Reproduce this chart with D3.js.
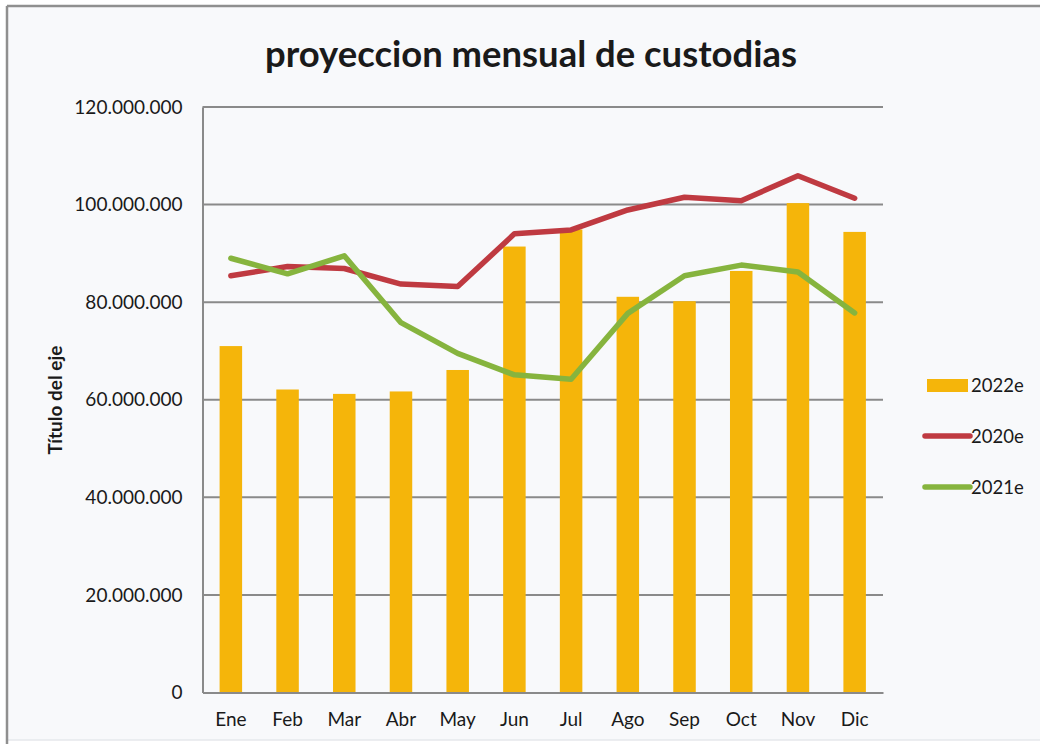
<!DOCTYPE html>
<html>
<head>
<meta charset="utf-8">
<script src="https://cdn.jsdelivr.net/npm/d3@7"></script>
<style>
  html, body { margin: 0; padding: 0; background: #ffffff; }
  svg { display: block; }
  text { font-family: Lato, "Open Sans", sans-serif; fill: #1a1a1a; }
</style>
</head>
<body>
<svg id="chart" width="1040" height="744"></svg>
<script>
const title = "proyeccion mensual de custodias";
const yAxisTitle = "Título del eje";
const months = ["Ene","Feb","Mar","Abr","May","Jun","Jul","Ago","Sep","Oct","Nov","Dic"];
const values2022e = [71.0e6, 62.1e6, 61.2e6, 61.7e6, 66.1e6, 91.4e6, 94.9e6, 81.1e6, 80.2e6, 86.4e6, 100.3e6, 94.4e6];
const values2020e = [85.4e6, 87.3e6, 86.9e6, 83.7e6, 83.2e6, 94.0e6, 94.8e6, 98.9e6, 101.5e6, 100.8e6, 105.9e6, 101.3e6];
const values2021e = [89.0e6, 85.8e6, 89.5e6, 75.8e6, 69.5e6, 65.1e6, 64.2e6, 77.7e6, 85.4e6, 87.6e6, 86.2e6, 77.8e6];
const yTicks = [0, 20e6, 40e6, 60e6, 80e6, 100e6, 120e6];
const legendNames = ["2022e", "2020e", "2021e"];

const colBar = "#F5B50A", colRed = "#BF3A41", colGreen = "#86B43E", colGrid = "#8a8a8a";

const svg = d3.select("#chart");

// chart frame background
svg.append("rect").attr("x", 7).attr("y", 6).attr("width", 1040).attr("height", 734)
  .attr("fill", "#f8f9fb").attr("stroke", "#e6e8ec").attr("stroke-width", 1.5);
svg.append("line").attr("x1", 7).attr("x2", 1040).attr("y1", 6).attr("y2", 6)
  .attr("stroke", "#8f8f8f").attr("stroke-width", 2.5);
svg.append("line").attr("x1", 7).attr("x2", 7).attr("y1", 6).attr("y2", 744)
  .attr("stroke", "#8f8f8f").attr("stroke-width", 2.5);

const x = d3.scaleBand().domain(months).range([202.5, 883]).paddingInner(0).paddingOuter(0);
const y = d3.scaleLinear().domain([0, 120e6]).range([692.5, 107]);

const loc = d3.formatLocale({decimal: ",", thousands: ".", grouping: [3], currency: ["", ""]});
const fmt = loc.format(",d");

// gridlines
svg.append("g").selectAll("line").data(yTicks.filter(d => d > 0)).join("line")
  .attr("x1", 202.5).attr("x2", 883)
  .attr("y1", d => y(d)).attr("y2", d => y(d))
  .attr("stroke", colGrid).attr("stroke-width", 2);

// y axis via d3
const yAxis = d3.axisLeft(y).tickValues(yTicks).tickFormat(fmt).tickSize(0).tickPadding(20);
const gy = svg.append("g").attr("transform", "translate(202.5,0)").call(yAxis);
gy.select(".domain").attr("stroke", colGrid).attr("stroke-width", 2);
gy.selectAll("text").attr("font-size", 19).attr("fill", "#222").style("font-family", "Lato, sans-serif");

// bars
const bw = 22.5;
svg.append("g").selectAll("rect").data(months).join("rect")
  .attr("x", (d) => x(d) + x.bandwidth() / 2 - bw / 2)
  .attr("y", (d, i) => y(values2022e[i]))
  .attr("width", bw)
  .attr("height", (d, i) => y(0) - y(values2022e[i]))
  .attr("fill", colBar);

// x axis
const xAxis = d3.axisBottom(x).tickSize(0).tickPadding(20);
const gx = svg.append("g").attr("transform", `translate(0,${y(0)})`).call(xAxis);
gx.select(".domain").attr("stroke", colGrid).attr("stroke-width", 2);
gx.selectAll("text").attr("font-size", 19).attr("fill", "#222").style("font-family", "Lato, sans-serif");

// lines
const line = d3.line().x((d, i) => x(months[i]) + x.bandwidth() / 2).y(d => y(d));
svg.append("path").datum(values2020e).attr("d", line)
  .attr("fill", "none").attr("stroke", colRed).attr("stroke-width", 5.5)
  .attr("stroke-linejoin", "round").attr("stroke-linecap", "round");
svg.append("path").datum(values2021e).attr("d", line)
  .attr("fill", "none").attr("stroke", colGreen).attr("stroke-width", 5.5)
  .attr("stroke-linejoin", "round").attr("stroke-linecap", "round");

// title
const t = svg.append("text").attr("x", 531).attr("y", 67).attr("text-anchor", "middle")
  .attr("font-weight", "bold").attr("font-size", 32).attr("fill", "#111").text(title);
const tl = t.node().getComputedTextLength();
if (tl > 0) t.attr("font-size", 32 * 532 / tl);

// y axis title
svg.append("text").attr("transform", "translate(62,400) rotate(-90)")
  .attr("text-anchor", "middle").attr("font-weight", "bold").attr("font-size", 19)
  .attr("fill", "#111").text(yAxisTitle);

// legend
const lg = svg.append("g");
lg.append("rect").attr("x", 927).attr("y", 379).attr("width", 41).attr("height", 13).attr("fill", colBar);
lg.append("line").attr("x1", 925).attr("x2", 970).attr("y1", 436).attr("y2", 436)
  .attr("stroke", colRed).attr("stroke-width", 5.5).attr("stroke-linecap", "round");
lg.append("line").attr("x1", 925).attr("x2", 970).attr("y1", 487).attr("y2", 487)
  .attr("stroke", colGreen).attr("stroke-width", 5.5).attr("stroke-linecap", "round");
const ly = [386, 437, 488];
lg.selectAll("text.lg").data(legendNames).join("text").attr("class", "lg")
  .attr("x", 971).attr("y", (d, i) => ly[i]).attr("dy", "0.35em")
  .attr("font-size", 18.5).attr("fill", "#222").text(d => d);
</script>
</body>
</html>
